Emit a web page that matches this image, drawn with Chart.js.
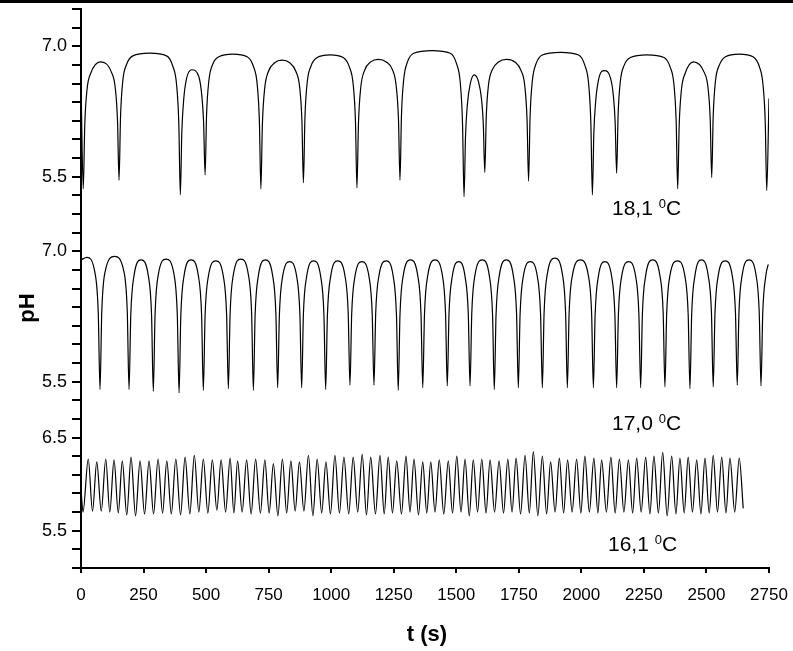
<!DOCTYPE html>
<html>
<head>
<meta charset="utf-8">
<title>pH oscillations</title>
<script src="https://cdn.jsdelivr.net/npm/chart.js@4.4.0/dist/chart.umd.min.js"></script>
<style>
  html, body { margin: 0; padding: 0; background: #fff; }
  #wrap { position: relative; width: 793px; height: 651px; }
</style>
</head>
<body>
<div id="wrap"><canvas id="phChart" width="793" height="651"></canvas></div>
<script>
// ── DATA ─────────────────────────────────────────────────────
// 18,1 °C trace: time (s) / pH
const topT = [0, 9,
  15, 24, 39, 78, 122, 137, 146, 152,
  158, 167, 182, 207, 275, 342, 367, 382, 391, 397,
  403, 410, 422, 443, 471, 483, 490, 496,
  502, 511, 526, 551, 607, 664, 689, 704, 713, 719,
  725, 734, 749, 774, 804, 834, 859, 874, 883, 889,
  895, 904, 919, 944, 996, 1048, 1073, 1088, 1097, 1103,
  1109, 1118, 1133, 1158, 1189, 1220, 1245, 1260, 1269, 1275,
  1281, 1290, 1305, 1330, 1403, 1476, 1501, 1516, 1525, 1531,
  1537, 1544, 1556, 1572, 1589, 1601, 1608, 1614,
  1620, 1629, 1644, 1669, 1701, 1734, 1759, 1774, 1783, 1789,
  1795, 1804, 1819, 1844, 1916, 1989, 2014, 2029, 2038, 2044,
  2050, 2057, 2069, 2092, 2116, 2128, 2135, 2141,
  2147, 2156, 2171, 2196, 2263, 2330, 2355, 2370, 2379, 2385,
  2391, 2400, 2415, 2448, 2491, 2506, 2515, 2521,
  2527, 2536, 2551, 2576, 2631, 2686, 2711, 2726, 2735, 2741,
  2750];
const topPH = [6.58, 5.36,
  6.09, 6.50, 6.69, 6.82, 6.70, 6.52, 6.14, 5.46,
  6.19, 6.60, 6.79, 6.89, 6.92, 6.89, 6.77, 6.56, 6.11, 5.29,
  6.01, 6.37, 6.63, 6.73, 6.65, 6.43, 6.13, 5.52,
  6.22, 6.60, 6.79, 6.88, 6.91, 6.88, 6.77, 6.57, 6.14, 5.36,
  6.10, 6.51, 6.71, 6.81, 6.84, 6.81, 6.71, 6.53, 6.14, 5.43,
  6.17, 6.58, 6.77, 6.87, 6.90, 6.87, 6.76, 6.56, 6.14, 5.37,
  6.11, 6.52, 6.72, 6.82, 6.85, 6.82, 6.73, 6.54, 6.16, 5.46,
  6.21, 6.62, 6.82, 6.92, 6.95, 6.92, 6.80, 6.58, 6.11, 5.27,
  5.97, 6.32, 6.57, 6.67, 6.59, 6.39, 6.11, 5.55,
  6.20, 6.56, 6.73, 6.82, 6.85, 6.82, 6.72, 6.54, 6.15, 5.45,
  6.19, 6.60, 6.80, 6.90, 6.93, 6.90, 6.78, 6.57, 6.11, 5.29,
  6.01, 6.36, 6.62, 6.72, 6.64, 6.43, 6.13, 5.54,
  6.22, 6.60, 6.78, 6.87, 6.90, 6.87, 6.76, 6.56, 6.13, 5.36,
  6.09, 6.50, 6.69, 6.82, 6.70, 6.53, 6.16, 5.49,
  6.20, 6.60, 6.78, 6.88, 6.91, 6.88, 6.77, 6.56, 6.13, 5.34,
  6.40];

// 17,0 °C trace
const midT = [0, 23, 56, 69, 76,
  83, 96, 134, 172, 185, 192,
  199, 212, 240, 269, 282, 289,
  296, 309, 340, 372, 385, 392,
  399, 412, 440, 469, 482, 489,
  496, 509, 539, 569, 582, 589,
  596, 609, 639, 669, 682, 689,
  696, 709, 737, 766, 779, 786,
  793, 806, 834, 862, 875, 882,
  889, 902, 930, 958, 971, 978,
  985, 998, 1026, 1055, 1068, 1075,
  1082, 1095, 1123, 1151, 1164, 1171,
  1178, 1191, 1220, 1248, 1261, 1268,
  1275, 1288, 1317, 1346, 1359, 1366,
  1373, 1386, 1415, 1444, 1457, 1464,
  1471, 1484, 1510, 1535, 1548, 1555,
  1562, 1575, 1604, 1632, 1645, 1652,
  1659, 1672, 1700, 1728, 1741, 1748,
  1755, 1768, 1796, 1824, 1837, 1844,
  1851, 1864, 1894, 1924, 1937, 1944,
  1951, 1964, 1996, 2028, 2041, 2048,
  2055, 2068, 2094, 2121, 2134, 2141,
  2148, 2161, 2189, 2217, 2230, 2237,
  2244, 2257, 2285, 2314, 2327, 2334,
  2341, 2354, 2384, 2414, 2427, 2434,
  2441, 2454, 2480, 2507, 2520, 2527,
  2534, 2547, 2575, 2603, 2616, 2623,
  2630, 2643, 2670, 2698, 2711, 2718,
  2725, 2738, 2747];
const midPH = [6.90, 6.93, 6.75, 6.29, 5.41,
  6.30, 6.76, 6.94, 6.76, 6.30, 5.41,
  6.27, 6.72, 6.90, 6.72, 6.27, 5.39,
  6.27, 6.73, 6.91, 6.73, 6.26, 5.37,
  6.26, 6.72, 6.90, 6.72, 6.27, 5.40,
  6.26, 6.71, 6.89, 6.71, 6.27, 5.42,
  6.28, 6.73, 6.91, 6.73, 6.28, 5.40,
  6.27, 6.72, 6.90, 6.72, 6.28, 5.43,
  6.27, 6.71, 6.88, 6.71, 6.27, 5.43,
  6.28, 6.71, 6.89, 6.71, 6.27, 5.41,
  6.27, 6.71, 6.89, 6.72, 6.29, 5.46,
  6.28, 6.71, 6.88, 6.71, 6.28, 5.46,
  6.29, 6.72, 6.89, 6.71, 6.26, 5.40,
  6.27, 6.72, 6.90, 6.72, 6.28, 5.43,
  6.28, 6.72, 6.90, 6.73, 6.29, 5.45,
  6.28, 6.71, 6.88, 6.71, 6.28, 5.45,
  6.29, 6.73, 6.90, 6.72, 6.27, 5.41,
  6.27, 6.72, 6.90, 6.72, 6.28, 5.43,
  6.27, 6.71, 6.88, 6.71, 6.27, 5.43,
  6.29, 6.74, 6.92, 6.74, 6.29, 5.43,
  6.28, 6.72, 6.90, 6.72, 6.28, 5.43,
  6.27, 6.71, 6.88, 6.71, 6.27, 5.43,
  6.27, 6.71, 6.88, 6.71, 6.27, 5.43,
  6.28, 6.72, 6.90, 6.72, 6.29, 5.44,
  6.28, 6.72, 6.89, 6.71, 6.27, 5.42,
  6.28, 6.72, 6.90, 6.72, 6.29, 5.44,
  6.28, 6.72, 6.89, 6.72, 6.29, 5.46,
  6.30, 6.73, 6.90, 6.73, 6.29, 5.45,
  6.29, 6.73, 6.85];

// 16,1 °C trace: troughs and peaks, plus first and last sample
const lowStart = [0, 5.95];
const lowEnd = [2647, 5.74];
const lowTroughT = [8, 46, 81, 115, 149, 183, 218, 254, 290, 326,
  361, 398, 435, 471, 507, 543, 578, 611, 644, 680,
  717, 752, 787, 822, 856, 891, 927, 962, 997, 1033,
  1070, 1106, 1141, 1177, 1212, 1245, 1281, 1315, 1349, 1382,
  1415, 1450, 1485, 1519, 1552, 1585, 1619, 1653, 1689, 1723,
  1757, 1792, 1826, 1861, 1895, 1929, 1963, 1998, 2032, 2066,
  2100, 2135, 2170, 2205, 2239, 2274, 2308, 2343, 2378, 2411,
  2444, 2478, 2511, 2544, 2578, 2613];
const lowTroughPH = [5.70, 5.71, 5.71, 5.70, 5.69, 5.67, 5.66, 5.68, 5.68, 5.69,
  5.68, 5.67, 5.68, 5.70, 5.69, 5.72, 5.70, 5.69, 5.70, 5.68,
  5.69, 5.69, 5.66, 5.69, 5.71, 5.71, 5.66, 5.69, 5.68, 5.69,
  5.68, 5.70, 5.67, 5.68, 5.68, 5.69, 5.68, 5.70, 5.67, 5.69,
  5.70, 5.68, 5.69, 5.70, 5.66, 5.70, 5.69, 5.70, 5.69, 5.70,
  5.68, 5.69, 5.66, 5.68, 5.70, 5.69, 5.70, 5.69, 5.70, 5.69,
  5.70, 5.69, 5.70, 5.69, 5.70, 5.68, 5.69, 5.66, 5.68, 5.69,
  5.70, 5.68, 5.69, 5.70, 5.69, 5.70];
const lowPeakT = [29, 63, 99, 132, 165, 200, 236, 272, 308, 343,
  379, 416, 453, 489, 525, 560, 596, 626, 662, 698,
  735, 769, 805, 839, 873, 909, 944, 979, 1015, 1051,
  1088, 1124, 1158, 1195, 1228, 1262, 1299, 1331, 1366, 1398,
  1432, 1468, 1502, 1535, 1568, 1602, 1635, 1671, 1706, 1739,
  1775, 1808, 1844, 1877, 1912, 1945, 1981, 2014, 2050, 2081,
  2118, 2152, 2188, 2221, 2257, 2290, 2325, 2361, 2394, 2427,
  2461, 2494, 2527, 2561, 2594, 2631];
const lowPeakPH = [6.27, 6.24, 6.27, 6.26, 6.25, 6.29, 6.25, 6.25, 6.27, 6.25,
  6.27, 6.29, 6.31, 6.27, 6.26, 6.26, 6.28, 6.25, 6.26, 6.27,
  6.26, 6.22, 6.27, 6.25, 6.24, 6.31, 6.27, 6.24, 6.31, 6.29,
  6.29, 6.32, 6.29, 6.31, 6.29, 6.25, 6.30, 6.27, 6.24, 6.24,
  6.26, 6.25, 6.30, 6.27, 6.26, 6.27, 6.26, 6.25, 6.27, 6.28,
  6.31, 6.35, 6.30, 6.24, 6.28, 6.26, 6.27, 6.30, 6.28, 6.26,
  6.29, 6.27, 6.26, 6.28, 6.29, 6.30, 6.34, 6.30, 6.28, 6.29,
  6.26, 6.28, 6.31, 6.29, 6.28, 6.28];

// axis ticks
const xTicks = [0, 250, 500, 750, 1000, 1250, 1500, 1750, 2000, 2250, 2500, 2750];
// the three traces share one stacked axis (0..30 tick units); labelled ticks:
const yTickUnits  = [2, 7, 10, 17, 21, 28];
const yTickLabels = ['5.5', '6.5', '5.5', '7.0', '5.5', '7.0'];
const tempLabels = ['18,1', '17,0', '16,1'];

// ── MAPPING pH -> stacked axis units ──────────────────────────
const toTop = ph => 21 + (ph - 5.5) * 7 / 1.5;
const toMid = ph => 10 + (ph - 5.5) * 7 / 1.5;
const toLow = ph => 2 + (ph - 5.5) * 5;

const topData = topT.map((t, i) => ({ x: t, y: toTop(topPH[i]) }));
const midData = midT.map((t, i) => ({ x: t, y: toMid(midPH[i]) }));

const lowData = [{ x: lowStart[0], y: toLow(lowStart[1]) }];
lowTroughT.forEach((t, i) => {
  lowData.push({ x: t, y: toLow(lowTroughPH[i]) });
  lowData.push({ x: lowPeakT[i], y: toLow(lowPeakPH[i]) });
});
lowData.push({ x: lowEnd[0], y: toLow(lowEnd[1]) });

// ── PLUGIN: paper, top rule, titles, temperature notes ───────
const FONT = "'Liberation Sans', Arial, Helvetica, sans-serif";

const paperPlugin = {
  id: 'paper',
  beforeDraw(chart) {
    const ctx = chart.ctx;
    ctx.save();
    ctx.fillStyle = '#fff';
    ctx.fillRect(0, 0, chart.width, chart.height);
    ctx.fillStyle = '#000';
    ctx.fillRect(0, 0, chart.width, 3);
    ctx.restore();
  },
  afterDraw(chart) {
    const ctx = chart.ctx;
    ctx.save();
    ctx.fillStyle = '#000';

    // axis titles
    ctx.font = 'bold 22px ' + FONT;
    ctx.textAlign = 'center';
    ctx.textBaseline = 'middle';
    ctx.fillText('t (s)', 427, 635);
    ctx.save();
    ctx.translate(28, 308);
    ctx.rotate(-Math.PI / 2);
    ctx.fillText('pH', 0, 0);
    ctx.restore();

    // temperature notes: "18,1 ⁰C"
    const spots = [[612, 215], [612, 430], [608, 551]];
    ctx.textAlign = 'left';
    ctx.textBaseline = 'alphabetic';
    tempLabels.forEach((txt, i) => {
      let [x, y] = spots[i];
      ctx.font = '21px ' + FONT;
      ctx.fillText(txt + ' ', x, y);
      x += ctx.measureText(txt + ' ').width;
      ctx.font = '13px ' + FONT;
      ctx.fillText('0', x, y - 7);
      x += ctx.measureText('0').width;
      ctx.font = '21px ' + FONT;
      ctx.fillText('C', x, y);
    });
    ctx.restore();
  }
};

// ── CHART ────────────────────────────────────────────────────
const lineStyle = {
  borderColor: '#000',
  borderWidth: 1.2,
  pointRadius: 0,
  showLine: true,
  fill: false,
  tension: 0.4,
  cubicInterpolationMode: 'monotone'
};

new Chart(document.getElementById('phChart'), {
  type: 'scatter',
  data: {
    datasets: [
      { label: '18,1 °C', data: topData, ...lineStyle },
      { label: '17,0 °C', data: midData, ...lineStyle },
      { label: '16,1 °C', data: lowData, ...lineStyle }
    ]
  },
  options: {
    responsive: false,
    devicePixelRatio: 1,
    animation: false,
    layout: { padding: { left: 0, top: 9, right: 24, bottom: 0 } },
    plugins: {
      legend: { display: false },
      tooltip: { enabled: false }
    },
    scales: {
      x: {
        type: 'linear',
        min: 0,
        max: 2750,
        // fixed box: plot area runs 81..769 px, axis at y = 568
        afterFit: s => { s.height = 83; s.paddingLeft = 0; s.paddingRight = 0; },
        afterBuildTicks: s => { s.ticks = xTicks.map(v => ({ value: v })); },
        border: { display: true, color: '#000', width: 2 },
        grid: { drawOnChartArea: false, drawTicks: true, tickLength: 5, color: '#000', lineWidth: 2 },
        ticks: {
          color: '#000',
          padding: 12,
          maxRotation: 0,
          autoSkip: false,
          font: { family: FONT, size: 17 },
          callback: v => String(v)
        }
      },
      y: {
        type: 'linear',
        min: 0,
        max: 30,
        afterFit: s => { s.width = 81; s.paddingTop = 0; s.paddingBottom = 0; },
        border: { display: true, color: '#000', width: 2 },
        grid: { drawOnChartArea: false, drawTicks: true, tickLength: 9, color: '#000', lineWidth: 2 },
        ticks: {
          stepSize: 1,
          autoSkip: false,
          color: '#000',
          padding: 5,
          font: { family: FONT, size: 18 },
          callback: v => {
            const k = yTickUnits.indexOf(v);
            return k >= 0 ? yTickLabels[k] : '';
          }
        }
      }
    }
  },
  plugins: [paperPlugin]
});
</script>
</body>
</html>
